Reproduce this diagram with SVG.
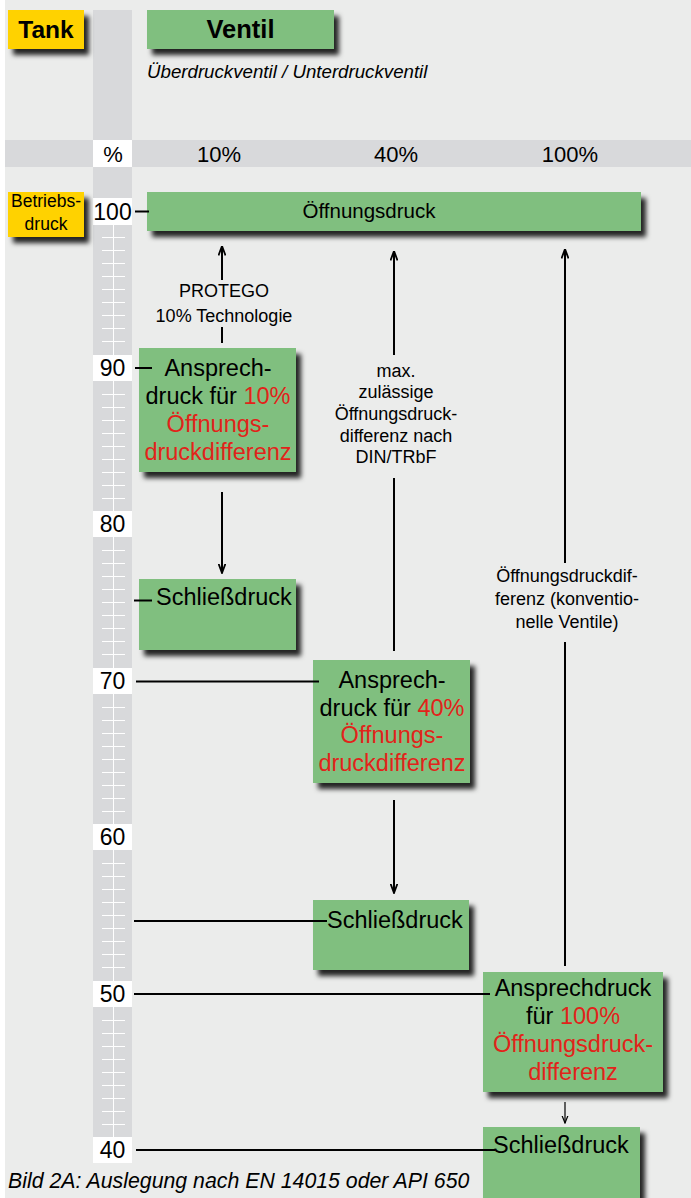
<svg xmlns="http://www.w3.org/2000/svg" width="691" height="1198" viewBox="0 0 691 1198">
<style>
text{font-family:"Liberation Sans",Arial,sans-serif;fill:#000}
.g{fill:#80bf7f}
.y{fill:#ffd200}
.lbl{fill:#fff}
.bx{font-size:23.5px;text-anchor:middle}
.red{fill:#e2231a}
.sm{font-size:18px;text-anchor:middle}
.hd{font-size:22px;text-anchor:middle}
.sc{font-size:23px;text-anchor:middle}
.ln{stroke:#000;stroke-width:2;fill:none}
.ln1{stroke:#000;stroke-width:1.2;fill:none}
</style>
<defs>
<filter id="sh" x="-10%" y="-20%" width="130%" height="160%">
<feDropShadow dx="5" dy="6" stdDeviation="2.8" flood-color="#000" flood-opacity="0.85"/>
</filter>
<marker id="ah" markerUnits="userSpaceOnUse" viewBox="0 0 10 8" refX="9.5" refY="4" markerWidth="10" markerHeight="8" orient="auto-start-reverse">
<path d="M0,0.5 L9.5,4 L0,7.5" fill="none" stroke="#000" stroke-width="1.8"/>
</marker>
<marker id="ahs" markerUnits="userSpaceOnUse" viewBox="0 0 8 8" refX="7.5" refY="4" markerWidth="8" markerHeight="8" orient="auto-start-reverse">
<path d="M0,1 L7.5,4 L0,7" fill="none" stroke="#000" stroke-width="1.2"/>
</marker>
</defs>
<rect x="0" y="0" width="691" height="1198" fill="#fff"/>
<rect x="5" y="0" width="686" height="1198" fill="#ebeceb"/>
<rect x="5" y="140" width="686" height="27" fill="#d8d9db"/>
<rect x="93" y="10" width="39" height="1153" fill="#d8d9db"/>
<g id="scale">
<path d="M113.5 225V1137" stroke="#fff" stroke-width="1"/>
<path stroke="#fff" stroke-width="1" d="M102 237.5h23M102 250.5h23M102 263.5h23M102 276.5h23M102 289.5h23M102 302.5h23M102 315.5h23M102 328.5h23M102 341.5h23M102 394.5h23M102 407.5h23M102 420.5h23M102 433.5h23M102 446.5h23M102 459.5h23M102 472.5h23M102 485.5h23M102 498.5h23M102 550.5h23M102 563.5h23M102 576.5h23M102 589.5h23M102 602.5h23M102 615.5h23M102 628.5h23M102 641.5h23M102 654.5h23M102 707.5h23M102 720.5h23M102 733.5h23M102 746.5h23M102 759.5h23M102 772.5h23M102 785.5h23M102 798.5h23M102 811.5h23M102 863.5h23M102 876.5h23M102 889.5h23M102 902.5h23M102 915.5h23M102 928.5h23M102 941.5h23M102 954.5h23M102 967.5h23M102 1020.5h23M102 1033.5h23M102 1046.5h23M102 1059.5h23M102 1072.5h23M102 1085.5h23M102 1098.5h23M102 1111.5h23M102 1124.5h23"/>
<rect class="lbl" x="93" y="140" width="39" height="27"/>
<text class="hd" x="113" y="162">%</text>
<rect class="lbl" x="93" y="198" width="39" height="27"/>
<text class="sc" x="112.5" y="220">100</text>
<rect class="lbl" x="93" y="355" width="39" height="26"/>
<text class="sc" x="112.5" y="376">90</text>
<rect class="lbl" x="93" y="511" width="39" height="26"/>
<text class="sc" x="112.5" y="532">80</text>
<rect class="lbl" x="93" y="668" width="39" height="26"/>
<text class="sc" x="112.5" y="689">70</text>
<rect class="lbl" x="93" y="824" width="39" height="26"/>
<text class="sc" x="112.5" y="845">60</text>
<rect class="lbl" x="93" y="981" width="39" height="26"/>
<text class="sc" x="112.5" y="1002">50</text>
<rect class="lbl" x="93" y="1137" width="39" height="26"/>
<text class="sc" x="112.5" y="1158">40</text>
</g>
<g id="header">
<text class="hd" x="219" y="162">10%</text>
<text class="hd" x="396" y="162">40%</text>
<text class="hd" x="570" y="162">100%</text>
</g>
<g id="tank">
<rect class="y" x="8" y="10" width="76" height="39" filter="url(#sh)"/>
<text x="46" y="38" font-size="24.5" font-weight="bold" text-anchor="middle">Tank</text>
</g>
<g id="ventil">
<rect class="g" x="147" y="10" width="187" height="39" filter="url(#sh)"/>
<text x="240.5" y="38" font-size="25.5" font-weight="bold" text-anchor="middle">Ventil</text>
<text x="147" y="78" font-size="18.7" font-style="italic">Überdruckventil / Unterdruckventil</text>
</g>
<g id="betriebsdruck">
<rect class="y" x="8" y="192" width="76" height="45" filter="url(#sh)"/>
<text x="46" y="207" font-size="17.5" text-anchor="middle">Betriebs-</text>
<text x="46" y="230" font-size="17.5" text-anchor="middle">druck</text>
</g>
<g id="oeffnungsdruck">
<rect class="g" x="147" y="192" width="494" height="39" filter="url(#sh)"/>
<text x="369" y="218" font-size="20.5" text-anchor="middle">Öffnungsdruck</text>
</g>
<g id="anspr10">
<rect class="g" x="139" y="348" width="157" height="124" filter="url(#sh)"/>
<text class="bx" x="218" y="376">Ansprech-</text>
<text class="bx" x="218" y="404">druck für <tspan class="red">10%</tspan></text>
<text class="bx red" x="218" y="432">Öffnungs-</text>
<text class="bx red" x="218" y="460">druckdifferenz</text>
</g>
<g id="schliess10">
<rect class="g" x="139" y="579" width="157" height="71" filter="url(#sh)"/>
<text x="156" y="605" font-size="23.5">Schließdruck</text>
</g>
<g id="anspr40">
<rect class="g" x="313" y="660" width="157" height="123" filter="url(#sh)"/>
<text class="bx" x="392" y="688">Ansprech-</text>
<text class="bx" x="392" y="716">druck für <tspan class="red">40%</tspan></text>
<text class="bx red" x="392" y="743">Öffnungs-</text>
<text class="bx red" x="392" y="771">druckdifferenz</text>
</g>
<g id="schliess40">
<rect class="g" x="313" y="900" width="156" height="70" filter="url(#sh)"/>
<text x="327" y="928" font-size="23.5">Schließdruck</text>
</g>
<g id="anspr100">
<rect class="g" x="483" y="972" width="180" height="120" filter="url(#sh)"/>
<text class="bx" x="573" y="996">Ansprechdruck</text>
<text class="bx" x="573" y="1024">für <tspan class="red">100%</tspan></text>
<text class="bx red" x="573" y="1052">Öffnungsdruck-</text>
<text class="bx red" x="573" y="1080">differenz</text>
</g>
<g id="schliess100">
<rect class="g" x="483" y="1127" width="157" height="80" filter="url(#sh)"/>
<text x="493" y="1153" font-size="23.5">Schließdruck</text>
</g>
<g id="connectors">
<path class="ln" d="M135 211.5H149"/>
<path class="ln" d="M135 368H152"/>
<path class="ln" d="M134 600.5H152"/>
<path class="ln" d="M136 681.5H319"/>
<path class="ln" d="M134 921H327"/>
<path class="ln" d="M134 994H490"/>
<path class="ln" d="M136 1150H495"/>
<path class="ln" d="M222 280V246" marker-end="url(#ah)"/>
<path class="ln" d="M222 327V343"/>
<path class="ln" d="M222 492V573" marker-end="url(#ah)"/>
<path class="ln" d="M394 355V251" marker-end="url(#ah)"/>
<path class="ln" d="M394 478V651"/>
<path class="ln" d="M394 800V893" marker-end="url(#ah)"/>
<path class="ln" d="M565 563V249" marker-end="url(#ah)"/>
<path class="ln" d="M565 642V966"/>
<path class="ln1" d="M565 1102V1123" marker-end="url(#ahs)"/>
</g>
<g id="labels">
<text class="sm" x="224" y="297">PROTEGO</text>
<text class="sm" x="224" y="322">10% Technologie</text>
<text class="sm" x="396" y="377">max.</text>
<text class="sm" x="396" y="398">zulässige</text>
<text class="sm" x="396" y="420">Öffnungsdruck-</text>
<text class="sm" x="396" y="442">differenz nach</text>
<text class="sm" x="396" y="463">DIN/TRbF</text>
<text class="sm" x="567" y="582">Öffnungsdruckdif-</text>
<text class="sm" x="567" y="605">ferenz (konventio-</text>
<text class="sm" x="567" y="628">nelle Ventile)</text>
</g>
<text x="8" y="1188" font-size="21.3" font-style="italic">Bild 2A: Auslegung nach EN 14015 oder API 650</text>
</svg>
